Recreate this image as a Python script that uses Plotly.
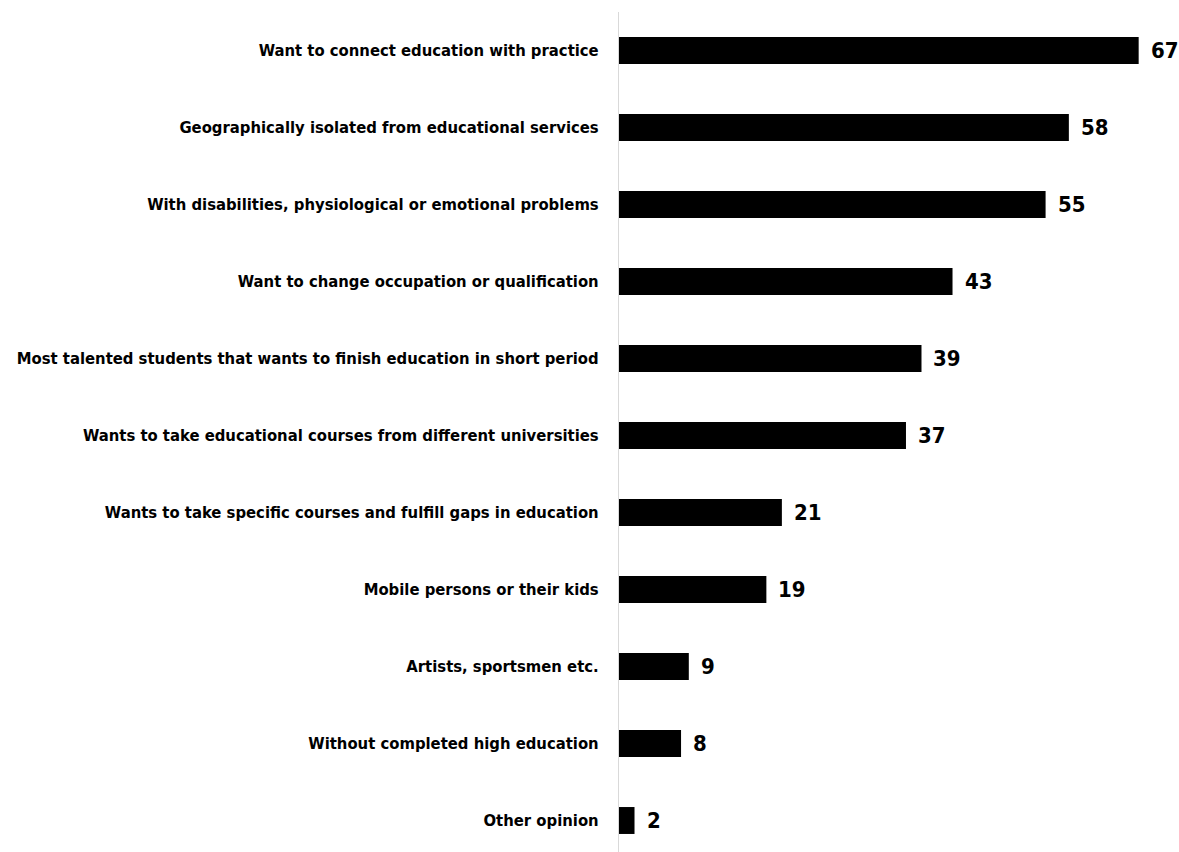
import plotly.graph_objects as go

categories = [
    "Want to connect education with practice",
    "Geographically isolated from educational services",
    "With disabilities, physiological or emotional problems",
    "Want to change occupation or qualification",
    "Most talented students that wants to finish education in short period",
    "Wants to take educational courses from different universities",
    "Wants to take specific courses and fulfill gaps in education",
    "Mobile persons or their kids",
    "Artists, sportsmen etc.",
    "Without completed high education",
    "Other opinion",
]
values = [67, 58, 55, 43, 39, 37, 21, 19, 9, 8, 2]

FONT = "DejaVu Sans Condensed, Liberation Sans Narrow, Arial Narrow, sans-serif"

fig = go.Figure(
    go.Bar(
        x=values,
        y=categories,
        orientation="h",
        marker=dict(color="#000000", line=dict(width=0)),
        hoverinfo="x+y",
    )
)

# value labels to the right of each bar
for cat, val in zip(categories, values):
    fig.add_annotation(
        x=val,
        y=cat,
        text=str(val),
        showarrow=False,
        xanchor="left",
        yanchor="middle",
        xshift=10,
        font=dict(family=FONT, size=22, color="#000000", weight="bold"),
    )

fig.update_layout(
    width=1179,
    height=852,
    margin=dict(l=619, r=0, t=12, b=0),
    paper_bgcolor="white",
    plot_bgcolor="white",
    bargap=0.65,
    showlegend=False,
    font=dict(family=FONT, color="#000000"),
)

fig.update_xaxes(
    range=[0, 72.2],
    showgrid=False,
    zeroline=False,
    showline=False,
    showticklabels=False,
    ticks="",
    automargin=False,
)

fig.update_yaxes(
    range=[-0.5 + 840 / 77, -0.5],
    showgrid=False,
    zeroline=False,
    showline=True,
    linecolor="#d9d9d9",
    linewidth=1,
    ticks="",
    ticklabelstandoff=16,
    automargin=False,
    tickfont=dict(family=FONT, size=16.5, color="#000000", weight="bold"),
)

fig.write_html("out.html")
